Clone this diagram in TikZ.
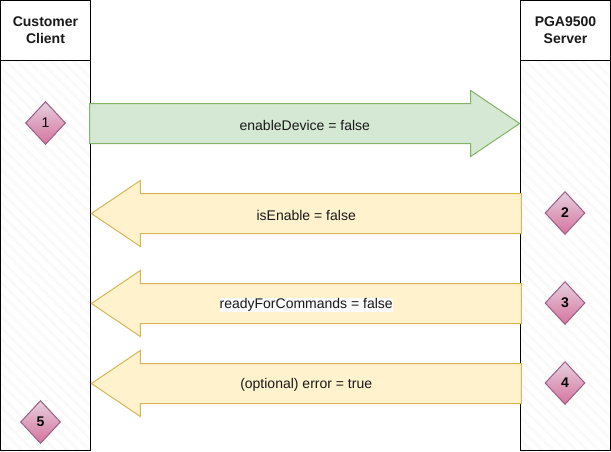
\documentclass[tikz,border=0pt]{standalone}
\usepackage{fontspec}
\setmainfont{Liberation Sans}
\usepackage{tikz}
\usetikzlibrary{shapes.geometric,shapes.arrows,patterns.meta}
\definecolor{greenfill}{HTML}{D5E8D4}
\definecolor{greenline}{HTML}{82B366}
\definecolor{yellowfill}{HTML}{FFF2CC}
\definecolor{yellowline}{HTML}{D6B656}
\definecolor{pinktop}{HTML}{E6D0DE}
\definecolor{pinkbot}{HTML}{D5739D}
\definecolor{pinkline}{HTML}{996185}
\definecolor{hatchgrey}{HTML}{F9F9F9}
\definecolor{labelback}{HTML}{FAFAFA}
\tikzset{
  x=1pt,y=-1pt,
  every node/.style={font=\fontsize{14}{17}\selectfont,text=black!90},
  lane/.style={draw=black,line width=1pt,
    pattern={Lines[angle=-45,distance=8pt,line width=3pt]},pattern color=hatchgrey},
  headbox/.style={draw=black,line width=1pt,fill=white,minimum width=90pt,minimum height=60pt,
    inner sep=0pt,align=center,font=\fontsize{14}{17}\selectfont\bfseries},
  bigarrow/.style={single arrow,line width=1pt,minimum width=66pt,minimum height=430pt,
    single arrow head extend=13pt,single arrow tip angle=68,
    text height=9pt,text depth=3pt,inner xsep=0pt,inner ysep=13.5pt,anchor=tip},
  goarrow/.style={bigarrow,draw=greenline,fill=greenfill},
  backarrow/.style={bigarrow,draw=yellowline,fill=yellowfill,shape border rotate=180},
  arrowtext/.style={midway,inner sep=0pt,yshift=-1.5pt},
  stepmark/.style={diamond,draw=pinkline,line width=1pt,top color=pinktop,bottom color=pinkbot,
    minimum width=40pt,minimum height=43pt,inner sep=0pt,text=black},
}
\begin{document}
\begin{tikzpicture}
  \useasboundingbox (0,0) rectangle (611,451);
  \draw[lane] (0.5,60.5) rectangle (90.5,450.5);
  \draw[lane] (520.5,60.5) rectangle (610.5,450.5);
  \node[headbox] (client) at (45.5,30.5) {\raisebox{-1pt}{Customer}\\\raisebox{-1pt}{Client}};
  \node[headbox] (server) at (565.5,30.5) {\raisebox{-1pt}{PGA9500}\\\raisebox{-1pt}{Server}};
  \node[goarrow] (enable) at (520.5,123.5) {};
  \node[backarrow] (isenable) at (90.5,213.5) {};
  \node[backarrow] (ready) at (90.5,303.5) {};
  \node[backarrow] (error) at (90.5,383.5) {};
  \path (enable.tail) -- (enable.tip) node[arrowtext] (enabletext) {enableDevice = false};
  \path (isenable.tail) -- (isenable.tip) node[arrowtext] (isenabletext) {isEnable = false};
  \path (ready.tail) -- (ready.tip) node[arrowtext,fill=labelback,text height=10.5pt,text depth=4pt]
    (readytext) {readyForCommands = false};
  \path (error.tail) -- (error.tip) node[arrowtext] (errortext) {(optional) error = true};
  \foreach \n/\x/\y/\f in {1/45.5/123/\mdseries,2/565/213/\bfseries,3/565/303/\bfseries,
                           4/565/383/\bfseries,5/40.5/422/\bfseries}{
    \node[stepmark] (mark\n) at (\x,\y) {\raisebox{-1pt}{\f\n}};
  }
\end{tikzpicture}
\end{document}
